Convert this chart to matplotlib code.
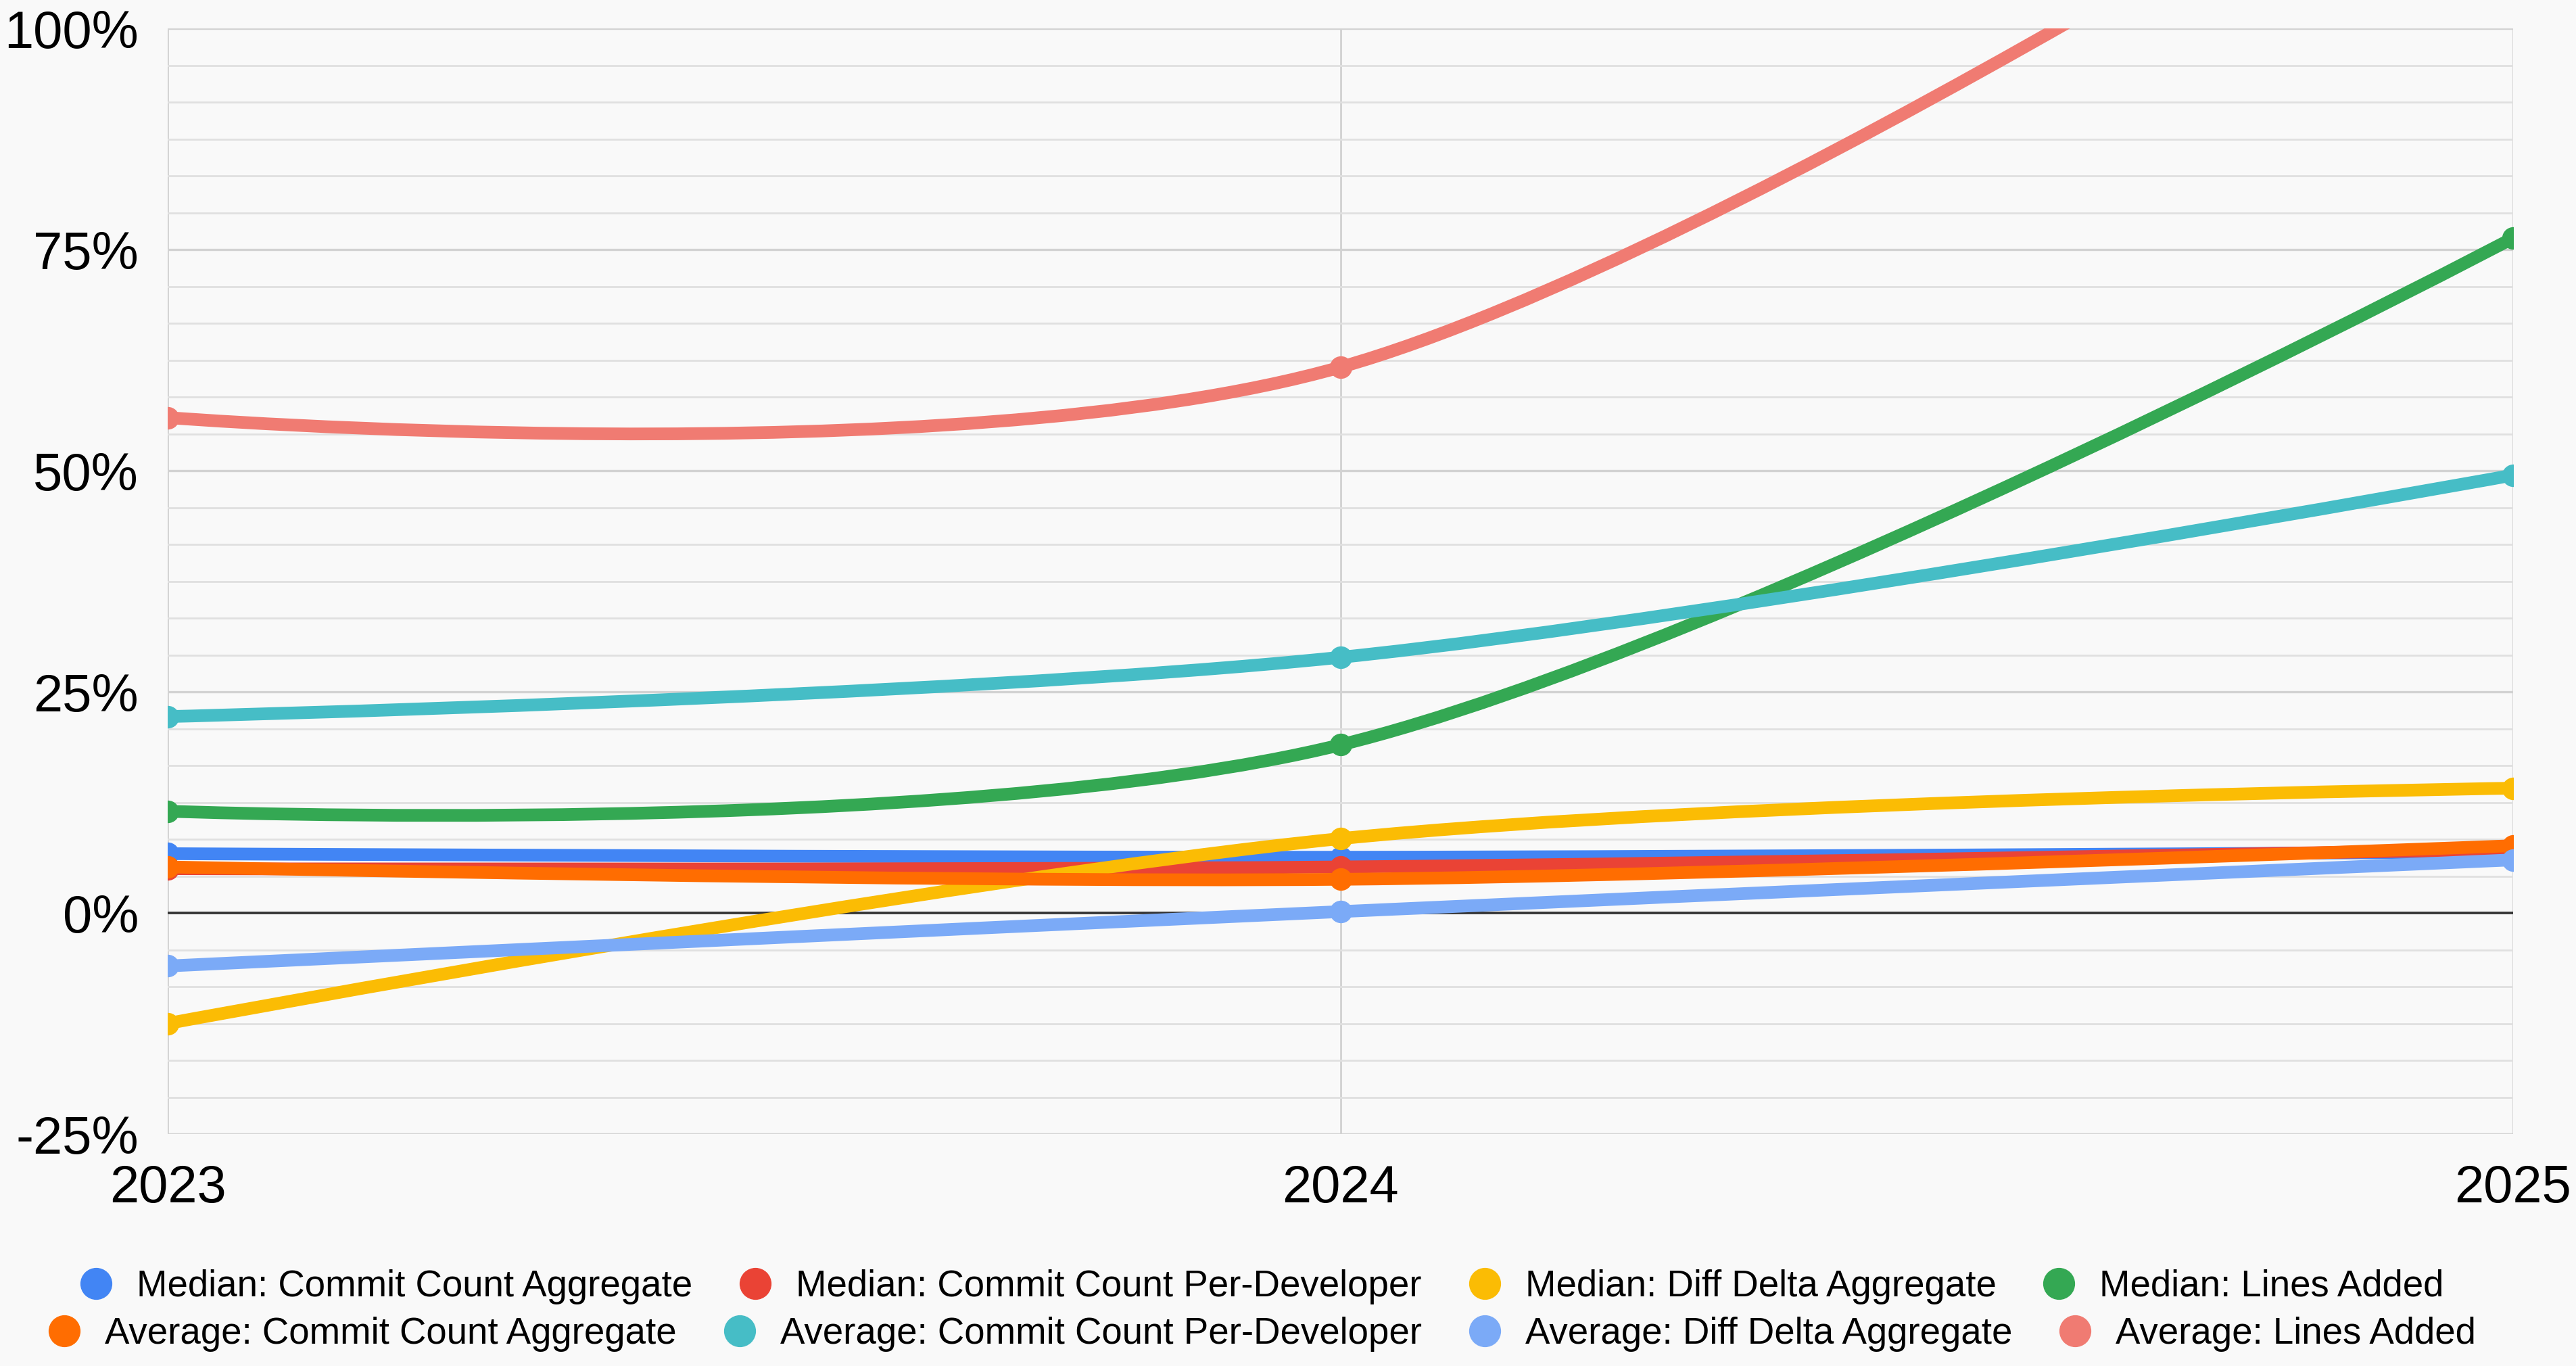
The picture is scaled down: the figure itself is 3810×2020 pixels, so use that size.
import numpy as np
import matplotlib
matplotlib.use("Agg")
import matplotlib.pyplot as plt
from matplotlib.path import Path
from matplotlib.patches import PathPatch
from matplotlib.lines import Line2D
from matplotlib.ticker import MultipleLocator, FuncFormatter

plt.rcParams['font.family'] = ['Liberation Sans', 'DejaVu Sans']

# data (percent change)
years = [2023, 2024, 2025]

median_commit_agg = [6.7, 6.3, 6.9]
median_commit_per_dev = [5.0, 5.2, 7.2]
median_diff_delta_agg = [-12.5, 8.4, 14.1]
median_lines_added = [11.5, 19.0, 76.3]
average_commit_agg = [5.2, 3.8, 7.6]
average_commit_per_dev = [22.2, 28.9, 49.5]
average_diff_delta_agg = [-6.0, 0.15, 6.0]
average_lines_added = [56.0, 61.7, 131.0]

series_names = [
    "Median: Commit Count Aggregate",
    "Median: Commit Count Per-Developer",
    "Median: Diff Delta Aggregate",
    "Median: Lines Added",
    "Average: Commit Count Aggregate",
    "Average: Commit Count Per-Developer",
    "Average: Diff Delta Aggregate",
    "Average: Lines Added",
]
series_values = [
    median_commit_agg, median_commit_per_dev, median_diff_delta_agg, median_lines_added,
    average_commit_agg, average_commit_per_dev, average_diff_delta_agg, average_lines_added,
]
colors = ["#4285F4", "#EA4335", "#FBBC04", "#34A853",
          "#FF6D01", "#46BDC6", "#7BAAF7", "#F07B72"]

y_ticks = [-25, 0, 25, 50, 75, 100]


def smooth_path(xs, ys):
    # bezier segments like the sheets "smooth" line option
    pts = np.column_stack([xs, ys]).astype(float)
    n = len(pts)
    verts = [pts[0]]
    codes = [Path.MOVETO]
    for i in range(n - 1):
        p0, p1 = pts[i], pts[i + 1]
        c0 = p0 + (pts[i + 1] - pts[i - 1]) / 6 if i > 0 else p0
        c1 = p1 - (pts[i + 2] - pts[i]) / 6 if i + 2 < n else p1
        verts += [c0, c1, p1]
        codes += [Path.CURVE4] * 3
    return Path(verts, codes)


bg = "#f9f9f9"
fig = plt.figure(figsize=(38.1, 20.2), dpi=100, facecolor=bg)
ax = fig.add_axes([0.0651, 0.1698, 0.9105, 0.8094])
ax.set_facecolor(bg)

for k, (vals, c) in enumerate(zip(series_values, colors)):
    z = 3 + k
    patch = PathPatch(smooth_path(years, vals), fill=False, edgecolor=c, lw=13.5,
                      capstyle='round', joinstyle='round', zorder=z)
    ax.add_patch(patch)
    ax.plot(years, vals, ls='none', marker='o', ms=23, color=c, zorder=z + 0.5)

ax.set_xlim(years[0], years[-1])
ax.set_ylim(y_ticks[0], y_ticks[-1])
ax.set_xticks(years)
ax.set_yticks(y_ticks)
ax.yaxis.set_minor_locator(MultipleLocator(25 / 6))
ax.yaxis.set_major_formatter(FuncFormatter(lambda v, p: f"{v:.0f}%"))

ax.grid(which='minor', axis='y', color='#e0e0e0', lw=2.0, zorder=0)
ax.grid(which='major', axis='y', color='#d2d2d2', lw=2.4, zorder=0)
ax.grid(which='major', axis='x', color='#cccccc', lw=1.8, zorder=0)
ax.axhline(0, color='#333333', lw=2.6, zorder=2)
ax.set_axisbelow(True)

for s in ax.spines.values():
    s.set_visible(False)
ax.tick_params(which='both', length=0)
ax.tick_params(axis='y', labelsize=56, pad=31)
ax.tick_params(axis='x', labelsize=56, pad=32)

handles = [Line2D([], [], ls='none', marker='o', ms=33, color=c) for c in colors]
leg_kw = dict(loc='center', ncol=4, frameon=False, fontsize=39.3, handlelength=1.0,
              handletextpad=0.6, columnspacing=1.2, borderpad=0, borderaxespad=0)
fig.legend(handles[:4], series_names[:4], bbox_to_anchor=(0.4895, 0.058), **leg_kw)
fig.legend(handles[4:], series_names[4:], bbox_to_anchor=(0.4895, 0.0233), **leg_kw)

fig.savefig("out.png", dpi=100, facecolor=bg)
